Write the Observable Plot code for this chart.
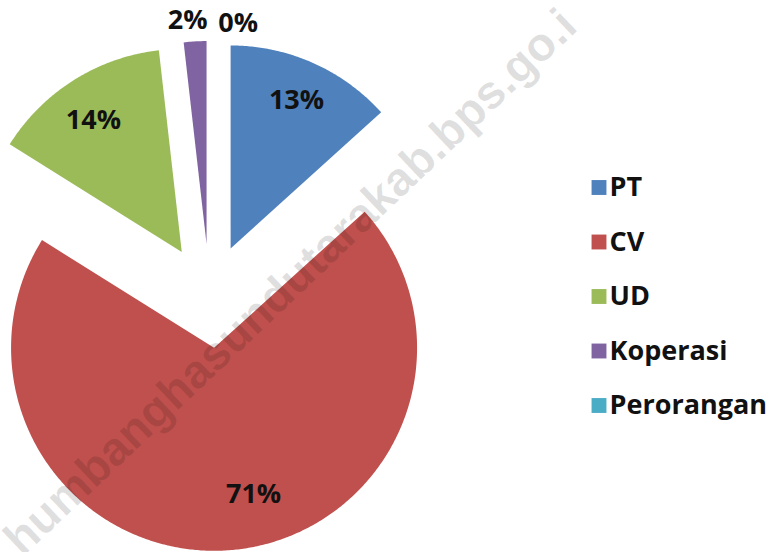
<!DOCTYPE html>
<html><head><meta charset="utf-8">
<script src="https://cdn.jsdelivr.net/npm/d3@7"></script>
<script src="https://cdn.jsdelivr.net/npm/@observablehq/plot@0.6"></script>
<style>
html,body{margin:0;padding:0;background:#fff;overflow:hidden;}
#chart{width:778px;height:552px;overflow:hidden;}
</style>
</head><body><div id="chart"></div>
<script>
// ---- data ----
const categories = ["PT", "CV", "UD", "Koperasi", "Perorangan"];
const shares = [13.3, 70.6, 14.3, 1.8, 0];
const colors = ["#4F81BD", "#C0504D", "#9BBB59", "#8064A2", "#4BACC6"];
const watermark = "humbanghasundutarakab.bps.go.i";

// ---- layout (pixels) ----
const W = 778, H = 552, CX = 209, CY = 295.5, R = 203, EXPLODE = 52;
const labelRadius = [0.8, 0.75, 0.78, 1.105, 1.095];
const labelTurn = [0, -10, -1.7, -1.6, 7.4]; // degrees
const legendX = 598.5, legendTextX = 609, legendY0 = 187, legendStep = 54.5;
const px = p => (p - CX) / R;
const py = p => (CY - p) / R;

// ---- geometry from values ----
const total = d3.sum(shares);
let acc = 0;
const slices = categories.map((name, i) => {
  const a0 = acc / total * 2 * Math.PI;
  acc += shares[i];
  const a1 = acc / total * 2 * Math.PI;
  return {name, i, a0, a1, mid: (a0 + a1) / 2, value: shares[i]};
});
const d = EXPLODE / R;
const rows = [];
for (const s of slices) {
  const ox = d * Math.sin(s.mid), oy = d * Math.cos(s.mid);
  rows.push({name: s.name, x: ox, y: oy});
  const n = Math.max(2, Math.ceil((s.a1 - s.a0) / (Math.PI / 360)));
  for (let k = 0; k <= n; k++) {
    const a = s.a0 + (s.a1 - s.a0) * k / n;
    rows.push({name: s.name, x: ox + Math.sin(a), y: oy + Math.cos(a)});
  }
  rows.push({name: s.name, x: ox, y: oy});
}
const labels = slices.map(s => {
  const ox = d * Math.sin(s.mid), oy = d * Math.cos(s.mid);
  const a = s.mid + labelTurn[s.i] * Math.PI / 180;
  const r = labelRadius[s.i];
  return {x: ox + r * Math.sin(a), y: oy + r * Math.cos(a), text: Math.round(s.value) + "%"};
});
const legend = categories.map((name, i) => ({name, y: py(legendY0 + legendStep * i)}));

const chart = Plot.plot({
  width: W, height: H,
  marginTop: 0, marginRight: 0, marginBottom: 0, marginLeft: 0,
  x: {domain: [px(0), px(W)], axis: null},
  y: {domain: [py(H), py(0)], axis: null},
  color: {domain: categories, range: colors},
  style: {fontFamily: "'Open Sans', sans-serif", background: "#fff", overflow: "hidden"},
  marks: [
    Plot.line(rows, {x: "x", y: "y", z: "name", fill: "name", stroke: "none", curve: "linear"}),
    Plot.text([watermark], {
      x: () => px(22), y: () => py(557), text: d => d,
      textAnchor: "start", lineAnchor: "bottom", rotate: -43.5,
      fontSize: 47, fontWeight: "bold", fontFamily: "'Liberation Sans', Arial, sans-serif",
      fill: "#000", fillOpacity: 0.12, clip: true
    }),
    Plot.text(labels, {x: "x", y: "y", text: "text", fontSize: 27, fontWeight: "bold", fill: "#111"}),
    Plot.dot(legend, {x: () => px(legendX), y: "y", symbol: "square", r: 8.4, fill: "name", stroke: "none"}),
    Plot.text(legend, {x: () => px(legendTextX), y: "y", text: "name", textAnchor: "start", fontSize: 27, fontWeight: "bold", fill: "#111"})
  ]
});
document.getElementById("chart").appendChild(chart);
</script>
</body></html>
